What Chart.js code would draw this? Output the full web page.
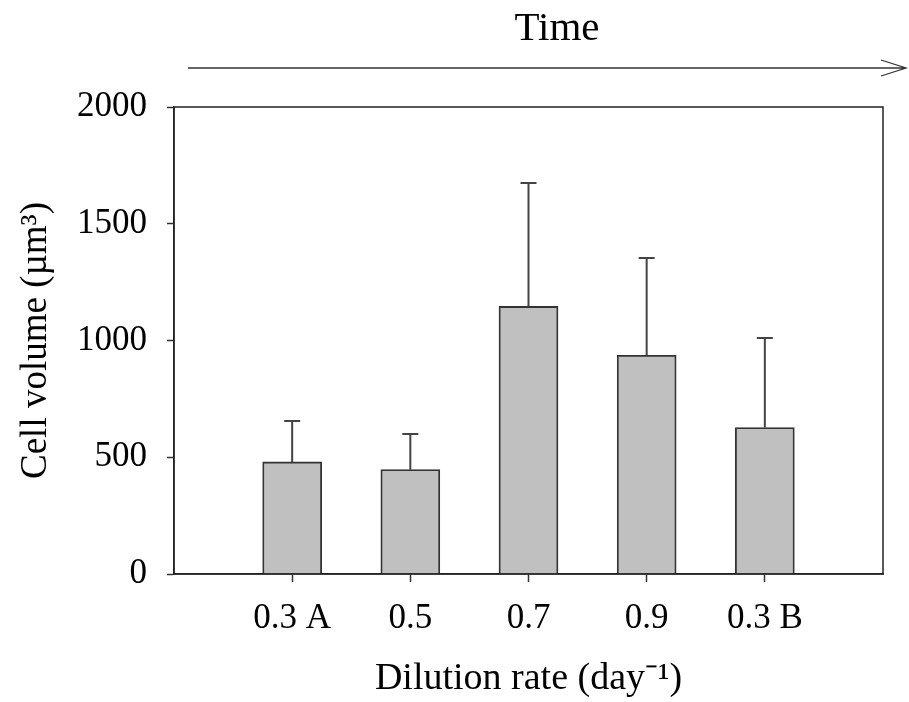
<!DOCTYPE html>
<html lang="en">
<head>
    <meta charset="UTF-8">
    <title>Cell volume vs dilution rate</title>
    <style>
        html, body { margin: 0; padding: 0; background: #fff; }
        #wrap { width: 909px; height: 702px; }
    </style>
    <script src="https://cdn.jsdelivr.net/npm/chart.js@4/dist/chart.umd.min.js"></script>
</head>
<body>
    <div id="wrap"><canvas id="volumeChart" width="909" height="702"></canvas></div>

    <script>
        // data
        const categories = ['0.3 A', '0.5', '0.7', '0.9', '0.3 B'];
        const cellVolume = [480, 447, 1146, 937, 627];
        const cellVolumeSD = [175, 153, 528, 416, 384];
        const yTicks = [0, 500, 1000, 1500, 2000];

        const serif = "'Liberation Serif', 'Times New Roman', serif";

        // empty slot at each end so the bars sit like in the original plot
        const labels = [''].concat(categories, ['']);
        const values = [null].concat(cellVolume, [null]);
        const errors = [null].concat(cellVolumeSD, [null]);

        const errorBars = {
            id: 'errorBars',
            afterDatasetsDraw(chart) {
                const ctx = chart.ctx;
                const y = chart.scales.y;
                const meta = chart.getDatasetMeta(0);
                ctx.save();
                ctx.strokeStyle = '#444';
                ctx.lineWidth = 2;
                meta.data.forEach((bar, i) => {
                    if (values[i] == null) return;
                    const top = y.getPixelForValue(values[i] + errors[i]);
                    ctx.beginPath();
                    ctx.moveTo(bar.x, bar.y);
                    ctx.lineTo(bar.x, top);
                    ctx.moveTo(bar.x - 8, top);
                    ctx.lineTo(bar.x + 8, top);
                    ctx.stroke();
                });
                ctx.restore();
            }
        };

        const frameAndTime = {
            id: 'frameAndTime',
            afterDraw(chart) {
                const ctx = chart.ctx;
                const a = chart.chartArea;
                ctx.save();
                // box round the plot
                ctx.strokeStyle = '#222';
                ctx.lineWidth = 1.5;
                ctx.strokeRect(a.left, a.top, a.right - a.left, a.bottom - a.top);

                // "Time" header with the arrow
                ctx.fillStyle = '#000';
                ctx.font = '41px ' + serif;
                ctx.textAlign = 'center';
                ctx.textBaseline = 'alphabetic';
                ctx.fillText('Time', 557, 40);

                ctx.strokeStyle = '#333';
                ctx.lineWidth = 1.3;
                ctx.beginPath();
                ctx.moveTo(188, 68);
                ctx.lineTo(906, 68);
                ctx.moveTo(881, 60);
                ctx.lineTo(906, 68);
                ctx.lineTo(881, 76);
                ctx.stroke();
                ctx.restore();
            }
        };

        new Chart(document.getElementById('volumeChart'), {
            type: 'bar',
            data: {
                labels: labels,
                datasets: [{
                    data: values,
                    backgroundColor: '#c0c0c0',
                    borderColor: '#333',
                    borderWidth: 1.8,
                    barThickness: 59
                }]
            },
            options: {
                responsive: false,
                animation: false,
                layout: { padding: { top: 107, right: 26, left: 0, bottom: 0 } },
                plugins: {
                    legend: { display: false },
                    tooltip: { enabled: false }
                },
                scales: {
                    x: {
                        offset: false,
                        grid: {
                            offset: false,
                            drawOnChartArea: false,
                            tickLength: 8,
                            tickColor: c => (c.index === 0 || c.index === labels.length - 1) ? 'rgba(0,0,0,0)' : '#333',
                            tickWidth: 1.5
                        },
                        border: { color: '#222', width: 1.5 },
                        ticks: {
                            color: '#000',
                            font: { family: serif, size: 35 },
                            padding: 16,
                            maxRotation: 0,
                            autoSkip: false
                        },
                        title: {
                            display: true,
                            text: 'Dilution rate (day\u207B\u00B9)',
                            color: '#000',
                            font: { family: serif, size: 38 },
                            padding: { top: 0, bottom: 0 }
                        },
                        afterFit: s => { s.height = 128; }
                    },
                    y: {
                        min: 0,
                        max: 2000,
                        afterBuildTicks: s => { s.ticks = yTicks.map(v => ({ value: v })); },
                        grid: {
                            drawOnChartArea: false,
                            tickLength: 7,
                            tickColor: '#333',
                            tickWidth: 1.5
                        },
                        border: { color: '#222', width: 1.5 },
                        ticks: {
                            color: '#000',
                            font: { family: serif, size: 35 },
                            padding: 20,
                            callback: v => String(v)
                        },
                        title: {
                            display: true,
                            text: 'Cell volume (\u00B5m\u00B3)',
                            color: '#000',
                            font: { family: serif, size: 37 },
                            padding: { top: 14, bottom: 0 }
                        },
                        afterFit: s => { s.width = 174; }
                    }
                }
            },
            plugins: [errorBars, frameAndTime]
        });
    </script>
</body>
</html>
